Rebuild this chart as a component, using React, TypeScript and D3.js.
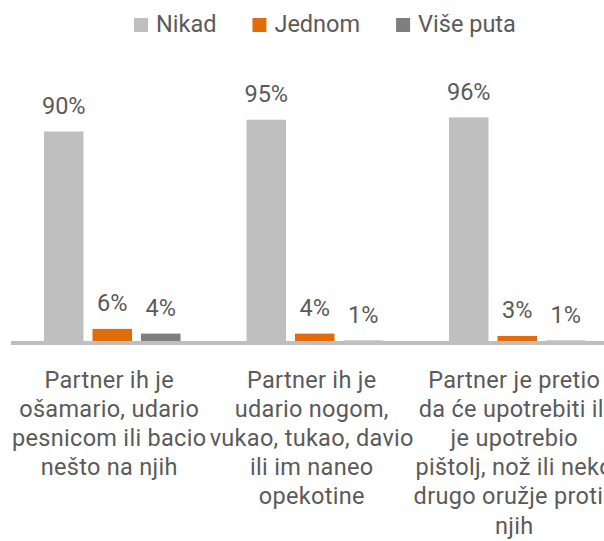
import React, { useRef, useEffect } from "react";
import * as d3 from "d3";

const width = 604;
const height = 541;

const seriesNames = ["Nikad", "Jednom", "Više puta"];
const seriesColors = ["#bfbfbf", "#e36c0a", "#7f7f7f"];

const categories = ["c1", "c2", "c3"];
const categoryLines = [
  ["Partner ih je", "ošamario, udario", "pesnicom ili bacio", "nešto na njih"],
  ["Partner ih je", "udario nogom,", "vukao, tukao, davio", "ili im naneo", "opekotine"],
  ["Partner je pretio", "da će upotrebiti ili", "je upotrebio", "pištolj, nož ili neko", "drugo oružje protiv", "njih"],
];

// values per category: Nikad, Jednom, Više puta
const nikad = [90, 95, 96];
const jednom = [6, 4, 3];
const visePuta = [4, 1, 1];

const textColor = "#5a5a5a";
const font = "Roboto, 'DejaVu Sans', sans-serif";
const fontSize = "23.5px";

export default function App() {
  const svgRef = useRef<SVGSVGElement | null>(null);

  useEffect(() => {
    const svg = d3.select(svgRef.current);
    svg.selectAll("*").remove();

    const data = categories.map((c, i) => ({
      key: c,
      values: [nikad[i], jednom[i], visePuta[i]],
    }));

    const x0 = d3.scaleBand().domain(categories).range([11, 618.5]).padding(0);
    const x1 = d3
      .scaleBand()
      .domain(seriesNames)
      .range([-68.25, 68.25])
      .paddingInner(0.186)
      .paddingOuter(0);
    const y = d3.scaleLinear().domain([0, 100]).range([343, 108]);

    // bars
    const groups = svg
      .append("g")
      .selectAll("g")
      .data(data)
      .join("g")
      .attr("transform", (d) => `translate(${x0(d.key)! + x0.bandwidth() / 2},0)`);

    groups
      .selectAll("rect")
      .data((d) => d.values.map((v, j) => ({ name: seriesNames[j], v, j })))
      .join("rect")
      .attr("x", (d) => x1(d.name)!)
      .attr("y", (d) => y(d.v))
      .attr("width", x1.bandwidth())
      .attr("height", (d) => y(0) - y(d.v))
      .attr("fill", (d) => seriesColors[d.j]);

    // data labels
    groups
      .selectAll("text")
      .data((d) => d.values.map((v, j) => ({ name: seriesNames[j], v, j })))
      .join("text")
      .attr("x", (d) => x1(d.name)! + x1.bandwidth() / 2)
      .attr("y", (d) => y(d.v) - 17.5)
      .attr("text-anchor", "middle")
      .style("font-family", font)
      .style("font-size", fontSize)
      .attr("fill", textColor)
      .text((d) => `${d.v}%`);

    // axis line
    svg
      .append("line")
      .attr("x1", 11)
      .attr("x2", width)
      .attr("y1", y(0))
      .attr("y2", y(0))
      .attr("stroke", "#bfbfbf")
      .attr("stroke-width", 4);

    // category labels (wrapped lines, clipped at the right edge like the original)
    categories.forEach((c, i) => {
      const cx = x0(c)! + x0.bandwidth() / 2;
      const lines = categoryLines[i];
      const t = svg
        .append("text")
        .attr("text-anchor", "middle")
        .style("font-family", font)
        .style("font-size", fontSize)
        .style("letter-spacing", "0.3px")
        .attr("fill", textColor);
      lines.forEach((line, k) => {
        t.append("tspan")
          .attr("x", cx - 3)
          .attr("y", 387.5 + k * 29.2)
          .text(line);
      });
    });

    // legend
    const legend = svg.append("g");
    let lx = 134;
    seriesNames.forEach((name, i) => {
      legend
        .append("rect")
        .attr("x", lx)
        .attr("y", 18)
        .attr("width", 14)
        .attr("height", 14)
        .attr("fill", seriesColors[i]);
      const txt = legend
        .append("text")
        .attr("x", lx + 22)
        .attr("y", 32)
        .style("font-family", font)
        .style("font-size", fontSize)
        .attr("fill", textColor)
        .text(name);
      const w = (txt.node() as SVGTextElement).getComputedTextLength();
      lx += 22 + w + 36;
    });
  }, []);

  return (
    <svg
      ref={svgRef}
      width={width}
      height={height}
      style={{ position: "absolute", left: 0, top: 0, background: "#fff" }}
    ></svg>
  );
}
